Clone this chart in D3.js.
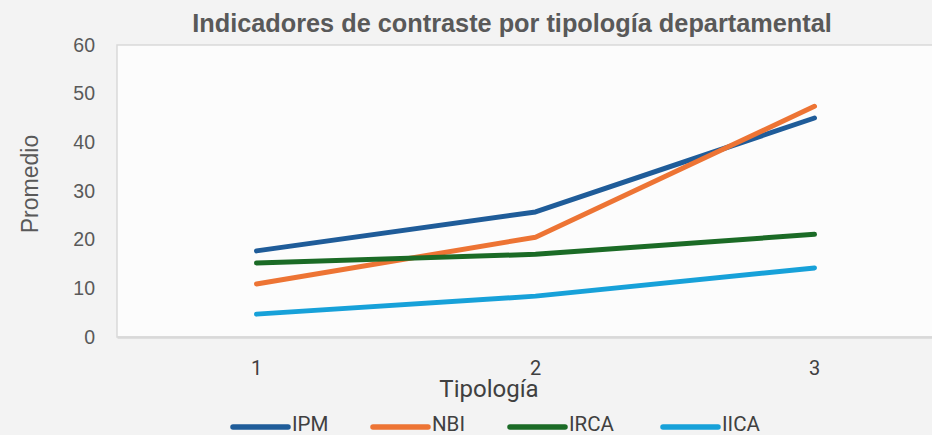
<!DOCTYPE html>
<html><head><meta charset="utf-8">
<script src="https://cdn.jsdelivr.net/npm/d3@7"></script>
<style>
html,body{margin:0;padding:0;background:#f3f3f3;}
svg{display:block;}
</style></head>
<body>
<script>
const categories = ["1", "2", "3"];
const seriesNames = ["IPM", "NBI", "IRCA", "IICA"];
const IPM  = [17.7, 25.7, 45.0];
const NBI  = [10.9, 20.5, 47.4];
const IRCA = [15.2, 17.0, 21.1];
const IICA = [4.7, 8.4, 14.2];
const yTicks = [0, 10, 20, 30, 40, 50, 60];
const colors = ["#1f5c99", "#ed7434", "#1b6b26", "#17a1d9"];
const title = "Indicadores de contraste por tipología departamental";
const yTitle = "Promedio";
const xTitle = "Tipología";

const W = 932, H = 435;
const plot = {left: 117, top: 45, bottom: 337, right: 954};
const svg = d3.select("body").append("svg").attr("width", W).attr("height", H);

svg.append("rect").attr("x", plot.left).attr("y", plot.top)
  .attr("width", plot.right - plot.left).attr("height", plot.bottom - plot.top)
  .attr("fill", "#fcfcfc").attr("stroke", "#d9d9d9").attr("stroke-width", 1.5);

const x = d3.scaleBand().domain(categories).range([plot.left, plot.right]);
const y = d3.scaleLinear().domain([0, 60]).range([plot.bottom, plot.top]);

// y axis labels
const yAxis = d3.axisLeft(y).tickValues(yTicks).tickSize(0).tickPadding(22);
const gy = svg.append("g").attr("transform", `translate(${plot.left},0)`).call(yAxis);
gy.select(".domain").remove();
gy.selectAll("text").attr("font-family", "Liberation Sans, Arial, sans-serif")
  .attr("font-size", 19.5).attr("fill", "#595959");

// x axis
const xAxis = d3.axisBottom(x).tickSize(0).tickPadding(0);
const gx = svg.append("g").attr("transform", `translate(0,${plot.bottom})`).call(xAxis);
gx.select(".domain").attr("stroke", "#d9d9d9").attr("stroke-width", 2.5);
gx.selectAll("text").attr("dy", null).attr("y", 38).attr("font-family", "Roboto, sans-serif")
  .attr("font-size", 20).attr("fill", "#404040");

// titles
svg.append("text").attr("x", 512).attr("y", 32).attr("text-anchor", "middle")
  .attr("font-family", "Liberation Sans, Arial, sans-serif").attr("font-weight", "bold")
  .attr("font-size", 25.3).attr("fill", "#595959").text(title);
svg.append("text").attr("transform", "translate(38,184) rotate(-90)").attr("text-anchor", "middle")
  .attr("font-family", "Liberation Sans, Arial, sans-serif").attr("font-size", 23)
  .attr("fill", "#595959").text(yTitle);
svg.append("text").attr("x", 489).attr("y", 397).attr("text-anchor", "middle")
  .attr("font-family", "Roboto, sans-serif").attr("font-size", 24)
  .attr("fill", "#404040").text(xTitle);

// lines
const data = [IPM, NBI, IRCA, IICA];
const line = d3.line().x((d, i) => x(categories[i]) + x.bandwidth() / 2).y(d => y(d));
data.forEach((vals, k) => {
  svg.append("path").datum(vals).attr("d", line).attr("fill", "none")
    .attr("stroke", colors[k]).attr("stroke-width", 5)
    .attr("stroke-linecap", "round").attr("stroke-linejoin", "round");
});

// legend
const legX = [233, 373, 510, 663];
const legY = 427;
seriesNames.forEach((name, k) => {
  svg.append("line").attr("x1", legX[k]).attr("x2", legX[k] + 55)
    .attr("y1", legY).attr("y2", legY).attr("stroke", colors[k])
    .attr("stroke-width", 5.5).attr("stroke-linecap", "round");
  svg.append("text").attr("x", legX[k] + 59).attr("y", 431)
    .attr("font-family", "Roboto, sans-serif").attr("font-size", 20.5)
    .attr("fill", "#404040").text(name);
});
</script>
</body></html>
